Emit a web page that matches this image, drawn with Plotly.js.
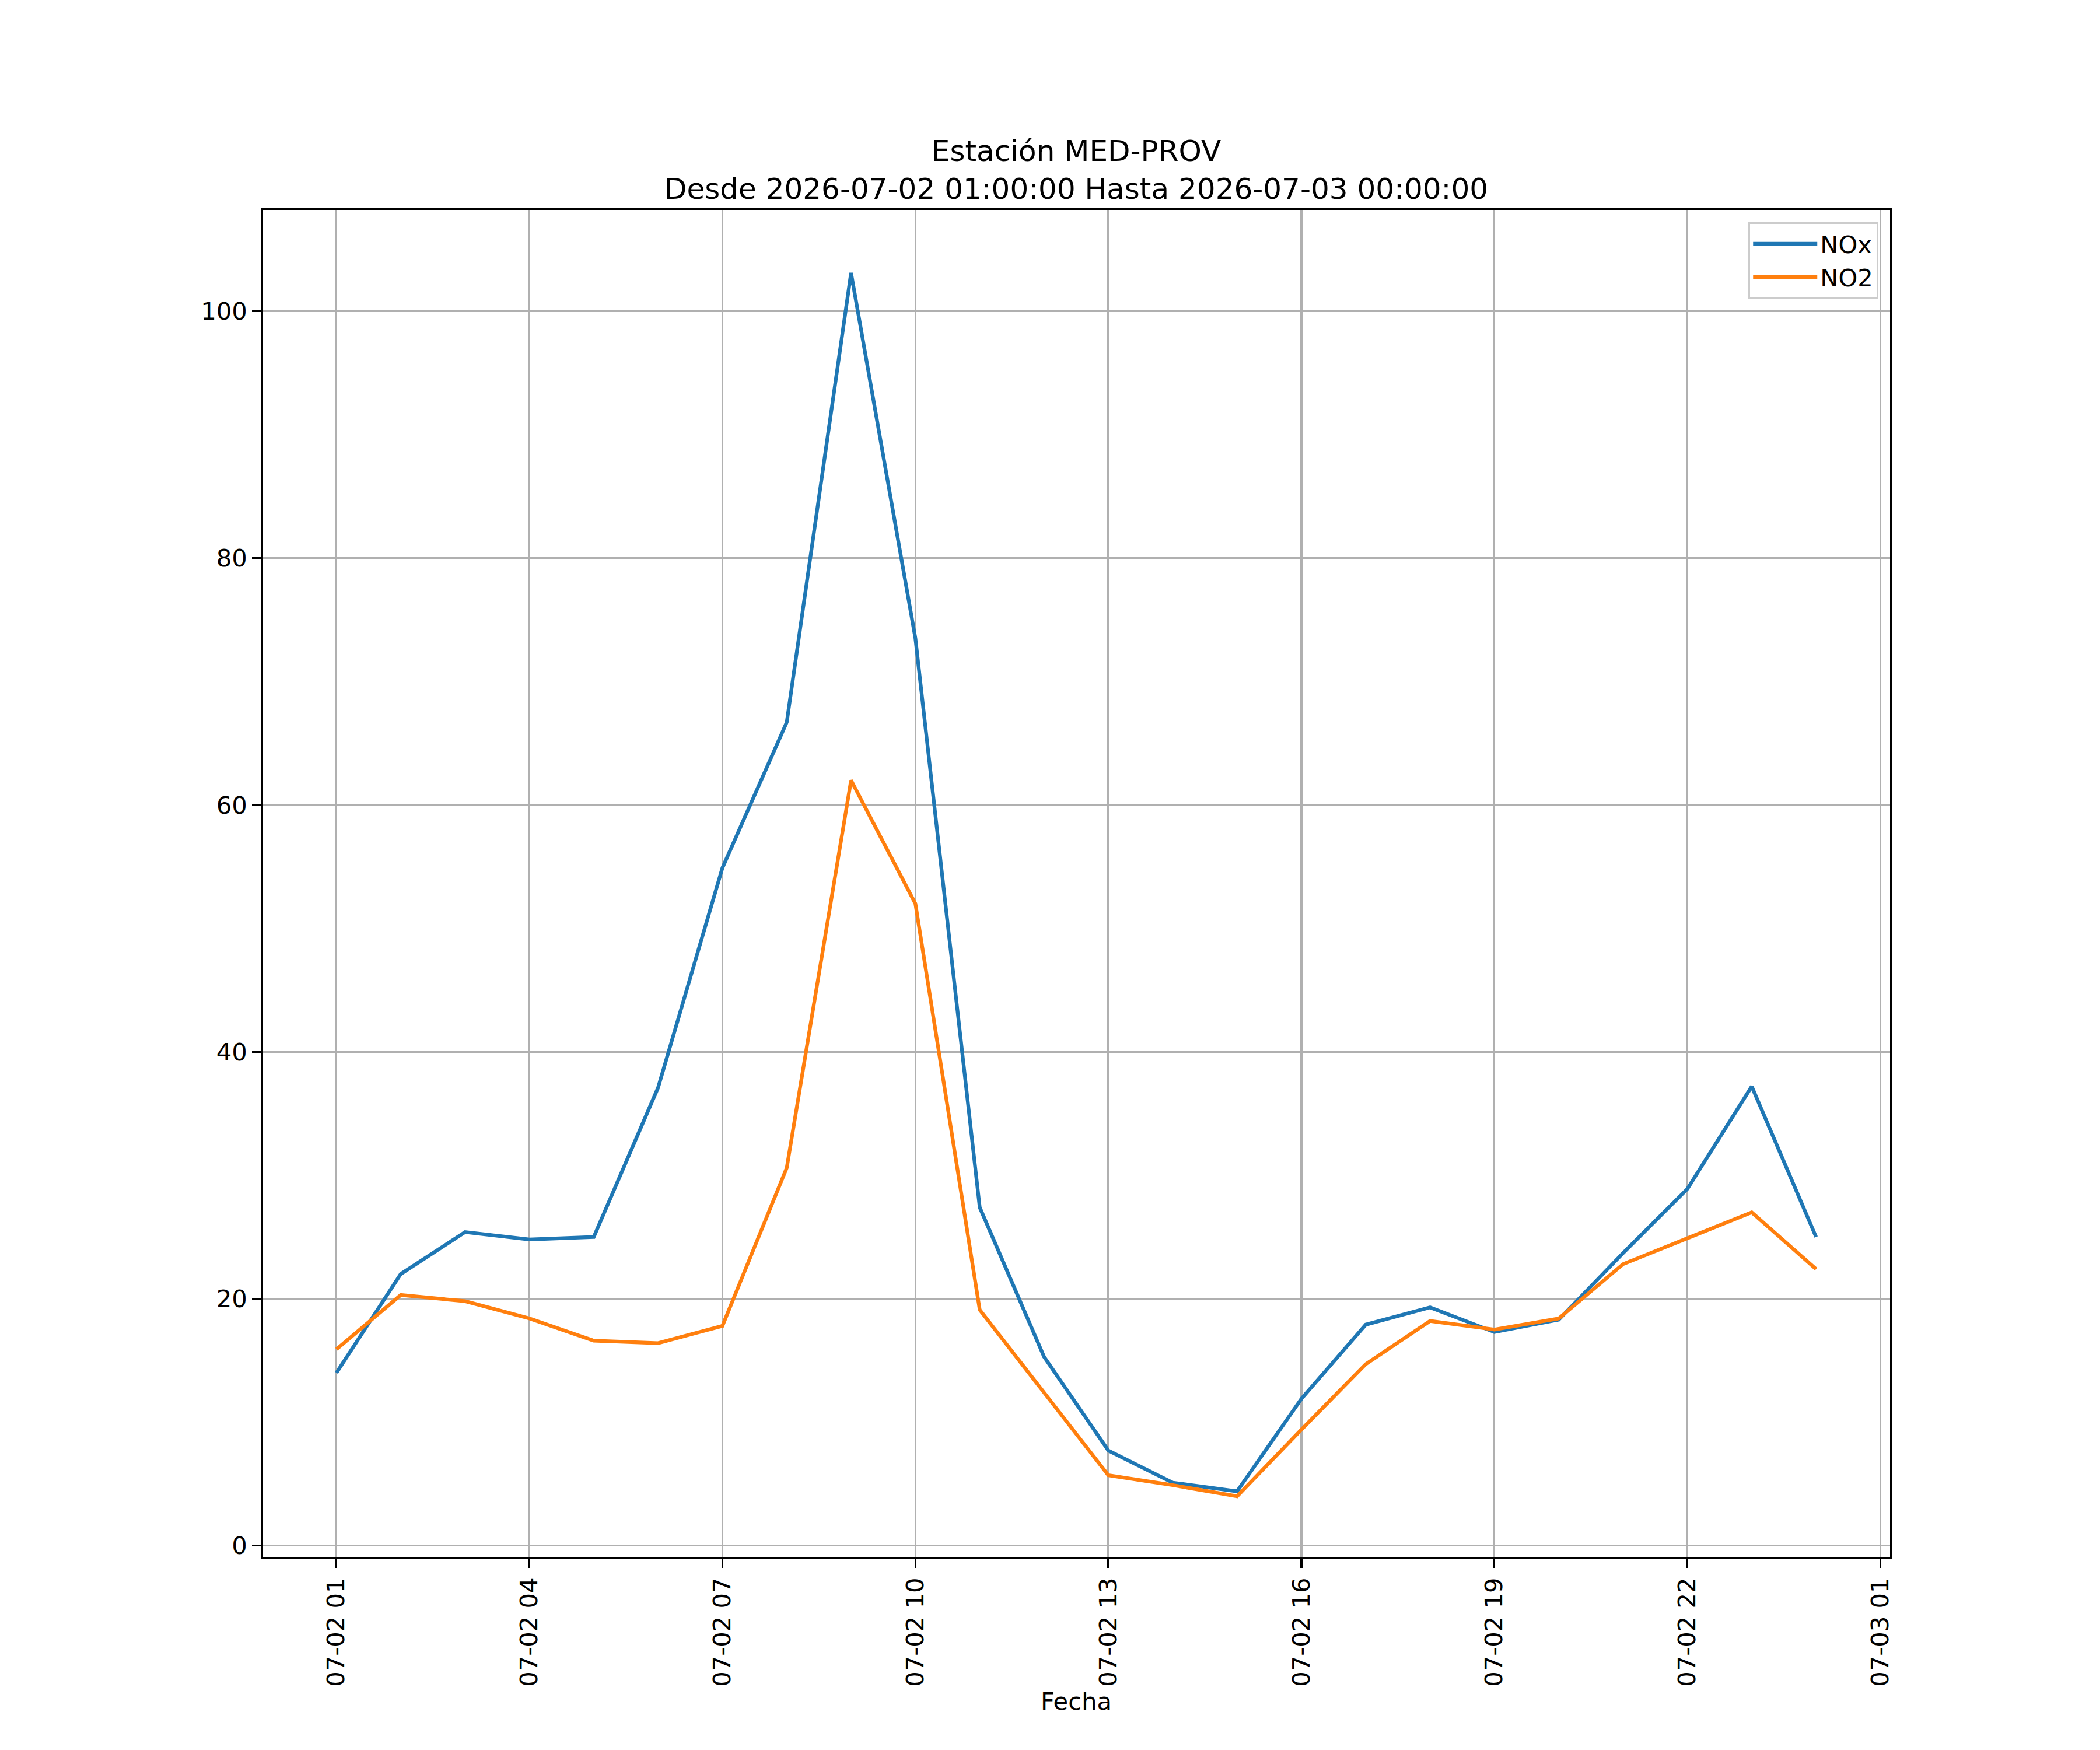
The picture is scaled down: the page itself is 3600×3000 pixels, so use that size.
<!DOCTYPE html>
<html>
<head>
<meta charset="utf-8">
<script src="https://cdn.plot.ly/plotly-3.0.1.min.js"></script>
<style>
  html, body { margin: 0; padding: 0; background: white; }
  #plot { width: 3600px; height: 3000px; }
</style>
</head>
<body>
<div id="plot"></div>
<script>
const fechas = [
  "2026-07-02 01:00", "2026-07-02 02:00", "2026-07-02 03:00", "2026-07-02 04:00",
  "2026-07-02 05:00", "2026-07-02 06:00", "2026-07-02 07:00", "2026-07-02 08:00",
  "2026-07-02 09:00", "2026-07-02 10:00", "2026-07-02 11:00", "2026-07-02 12:00",
  "2026-07-02 13:00", "2026-07-02 14:00", "2026-07-02 15:00", "2026-07-02 16:00",
  "2026-07-02 17:00", "2026-07-02 18:00", "2026-07-02 19:00", "2026-07-02 20:00",
  "2026-07-02 21:00", "2026-07-02 22:00", "2026-07-02 23:00", "2026-07-03 00:00",
];
const nox = [
  14.0, 22.0, 25.4, 24.8, 25.0, 37.1, 54.9, 66.7,
  103.1, 73.5, 27.4, 15.3, 7.7, 5.1, 4.4, 11.9,
  17.9, 19.3, 17.3, 18.3, 23.7, 28.9, 37.2, 25.0,
];
const no2 = [
  15.9, 20.3, 19.8, 18.4, 16.6, 16.4, 17.8, 30.6,
  62.0, 52.0, 19.1, 12.4, 5.7, 4.9, 4.0, 9.4,
  14.7, 18.2, 17.5, 18.4, 22.8, 24.9, 27.0, 22.4,
];

const PT = 300 / 72; // px per point at 300 dpi
const FONT = "DejaVu Sans";

const traces = [
  {
    x: fechas, y: nox, type: "scatter", mode: "lines", name: "NOx",
    line: { color: "#1f77b4", width: 1.5 * PT },
  },
  {
    x: fechas, y: no2, type: "scatter", mode: "lines", name: "NO2",
    line: { color: "#ff7f0e", width: 1.5 * PT },
  },
];

const axisCommon = {
  showline: true, mirror: true, linecolor: "black", linewidth: 0.8 * PT,
  ticks: "outside", ticklen: 3.5 * PT, tickwidth: 0.8 * PT, tickcolor: "black",
  showgrid: true, gridcolor: "#b0b0b0", gridwidth: 0.8 * PT,
  zeroline: false,
  tickfont: { family: FONT, size: 10 * PT, color: "black" },
};

const layout = {
  width: 3600, height: 3000,
  paper_bgcolor: "white", plot_bgcolor: "white",
  margin: { l: 450, r: 360, t: 360, b: 330, autoexpand: false },
  font: { family: FONT, color: "black" },
  title: {
    text: "Estación MED-PROV<br>Desde 2026-07-02 01:00:00 Hasta 2026-07-03 00:00:00",
    font: { family: FONT, size: 12 * PT, color: "black" },
    xref: "paper", x: 0.5, xanchor: "center",
    yref: "container", y: 1 - 276 / 3000, yanchor: "bottom",
  },
  xaxis: Object.assign({}, axisCommon, {
    type: "date",
    range: ["2026-07-01 23:51", "2026-07-03 01:09"],
    tick0: "2026-07-02 01:00", dtick: 3 * 3600 * 1000,
    tickformat: "%m-%d %H", tickangle: -90,
    ticklabelstandoff: 3.5 * PT,
    title: { text: "Fecha", font: { family: FONT, size: 10 * PT, color: "black" }, standoff: 12 },
    automargin: false,
  }),
  yaxis: Object.assign({}, axisCommon, {
    range: [-0.96, 108.2],
    tick0: 0, dtick: 20,
    ticklabelstandoff: 3.5 * PT,
    automargin: false,
  }),
  showlegend: true,
  legend: {
    x: 0.9928, xanchor: "right", y: 0.9909, yanchor: "top",
    bgcolor: "white", bordercolor: "#cccccc", borderwidth: 0.8 * PT,
    font: { family: FONT, size: 10 * PT, color: "black" },
    itemwidth: 110,
    tracegroupgap: 0,
  },
};

Plotly.newPlot("plot", traces, layout, { staticPlot: true, displayModeBar: false });
</script>
</body>
</html>
